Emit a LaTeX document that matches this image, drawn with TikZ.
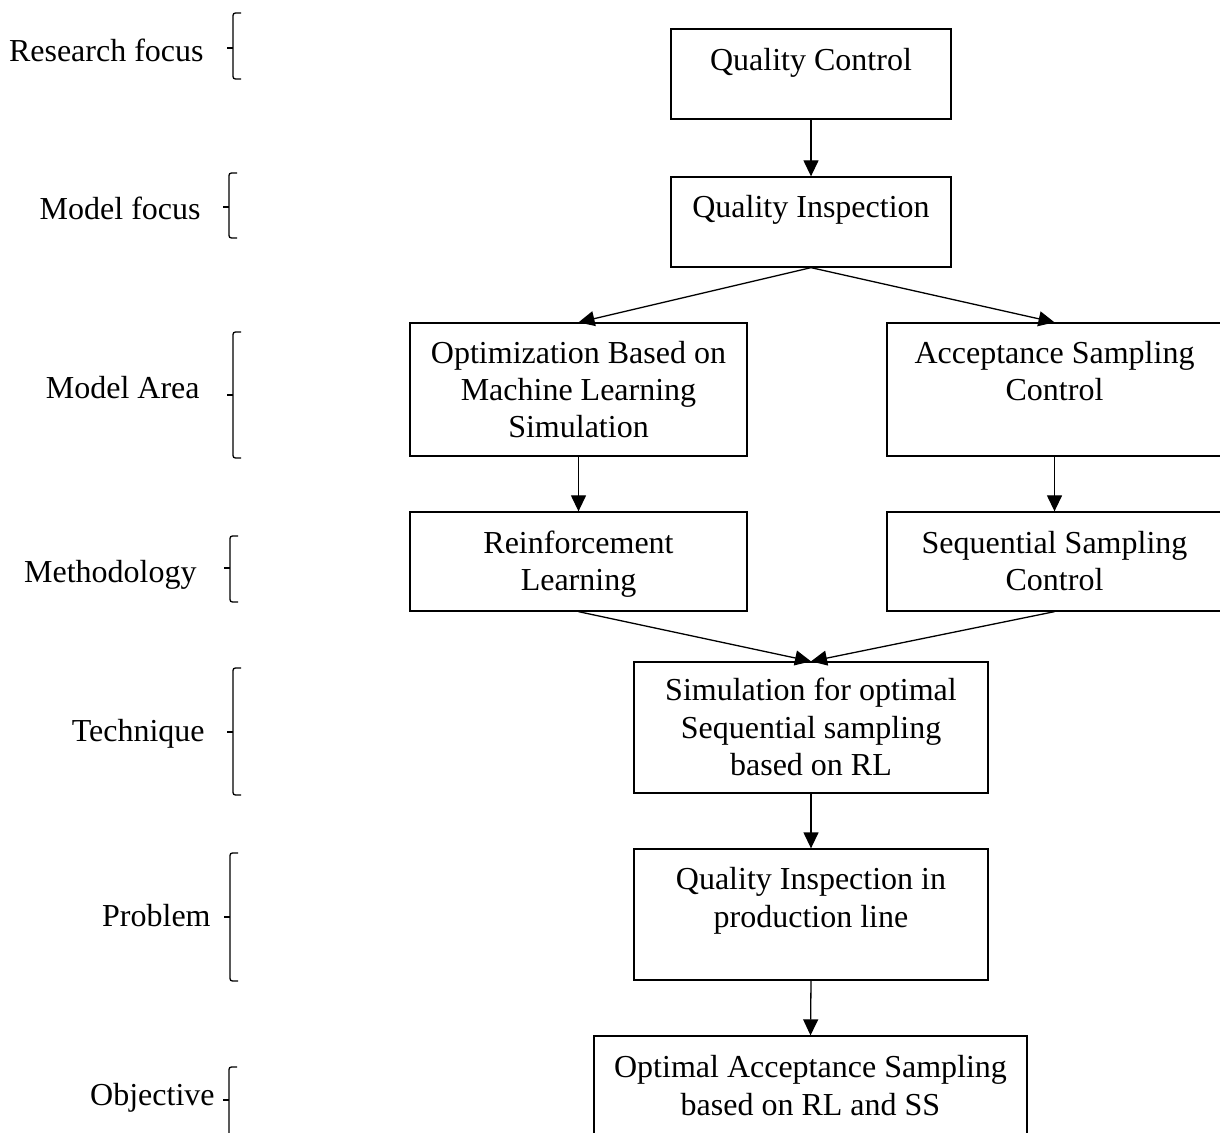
\documentclass[tikz,border=0pt]{standalone}
\usepackage{fontspec}
\setmainfont{Liberation Serif}
\usetikzlibrary{arrows.meta,fit}
\begin{document}
\begin{tikzpicture}[x=0.5pt,y=-0.5pt,
  box/.style={draw, line width=0.65pt, inner sep=0pt},
  boxtext/.style={inner sep=0pt, anchor=north, align=center,
    font=\fontsize{16}{18.7}\selectfont, execute at begin node=\strut},
  lvl/.style={inner sep=0pt, anchor=base east, font=\fontsize{16}{18.5}\selectfont},
  link/.style={line width=0.65pt, -{Triangle[length=8pt,width=7.5pt]}},
  brk/.style={line width=0.65pt, rounded corners=1.2pt},
]
\useasboundingbox (0,0) rectangle (1220,1133);

% ---- boxes of the flow ----
\node[box, fit={(671,29) (951,119)}]   (qc)   {};
\node[box, fit={(671,177) (951,267)}]  (qi)   {};
\node[box, fit={(410,323) (747,456)}]  (obml) {};
\node[box, fit={(887,323) (1222,456)}] (asc)  {};
\node[box, fit={(410,512) (747,611)}]  (rl)   {};
\node[box, fit={(887,512) (1222,611)}] (ssc)  {};
\node[box, fit={(634,662) (988,793)}]  (sim)  {};
\node[box, fit={(634,849) (988,980)}]  (qip)  {};
\node[box, fit={(594,1036) (1027,1180)}] (oas) {};

% ---- texts of the boxes ----
\node[boxtext] (tqc)   at (811,44.1)    {Quality Control};
\node[boxtext] (tqi)   at (811,191.1)   {Quality Inspection};
\node[boxtext] (tobml) at (578.5,340.5) {Optimization Based on\\Machine Learning\\Simulation};
\node[boxtext] (tasc)  at (1054.5,340.5) {Acceptance Sampling\\Control};
\node[boxtext] (trl)   at (578.5,530.5) {Reinforcement\\Learning};
\node[boxtext] (tssc)  at (1054.5,530.5) {Sequential Sampling\\Control};
\node[boxtext] (tsim)  at (811,678)     {Simulation for optimal\\Sequential sampling\\based on RL};
\node[boxtext] (tqip)  at (811,867)     {Quality Inspection in\\production line};
\node[boxtext] (toas)  at (810.5,1055)  {Optimal Acceptance Sampling\\based on RL and SS};

% ---- connectors ----
\draw[link] (qc.south)   -- (qi.north);
\draw[link] (qi.south)   -- (obml.north);
\draw[link] (qi.south)   -- (asc.north);
\draw[link] (obml.south) -- (rl.north);
\draw[link] (asc.south)  -- (ssc.north);
\draw[link] (rl.south)   -- (sim.north);
\draw[link] (ssc.south)  -- (sim.north);
\draw[link] (sim.south)  -- (qip.north);
\draw[link] (qip.south)  -- (oas.north);

% ---- level labels with their brackets ----
\node[lvl] (lrf) at (204,62)   {Research focus};
\node[lvl] (lmf) at (201,220)  {Model focus};
\node[lvl] (lma) at (200,399)  {Model Area};
\node[lvl] (lme) at (197,582)  {Methodology};
\node[lvl] (lte) at (205,741)  {Technique};
\node[lvl] (lpr) at (211,926)  {Problem};
\node[lvl] (lob) at (215,1105) {Objective};

\draw[brk] (241,13) -- (233,13) -- (233,79) -- (241,79);
\draw[brk] (227,48) -- (233,48);
\draw[brk] (237,173) -- (229,173) -- (229,238) -- (237,238);
\draw[brk] (223,207) -- (229,207);
\draw[brk] (241,332) -- (233,332) -- (233,458) -- (241,458);
\draw[brk] (227,395) -- (233,395);
\draw[brk] (238,536) -- (230,536) -- (230,602) -- (238,602);
\draw[brk] (224,568) -- (230,568);
\draw[brk] (241,668) -- (233,668) -- (233,795) -- (241,795);
\draw[brk] (227,732) -- (233,732);
\draw[brk] (238,853) -- (230,853) -- (230,981) -- (238,981);
\draw[brk] (224,917) -- (230,917);
\draw[brk] (237,1067) -- (229,1067) -- (229,1150);
\draw[brk] (223,1100) -- (229,1100);
\end{tikzpicture}
\end{document}
